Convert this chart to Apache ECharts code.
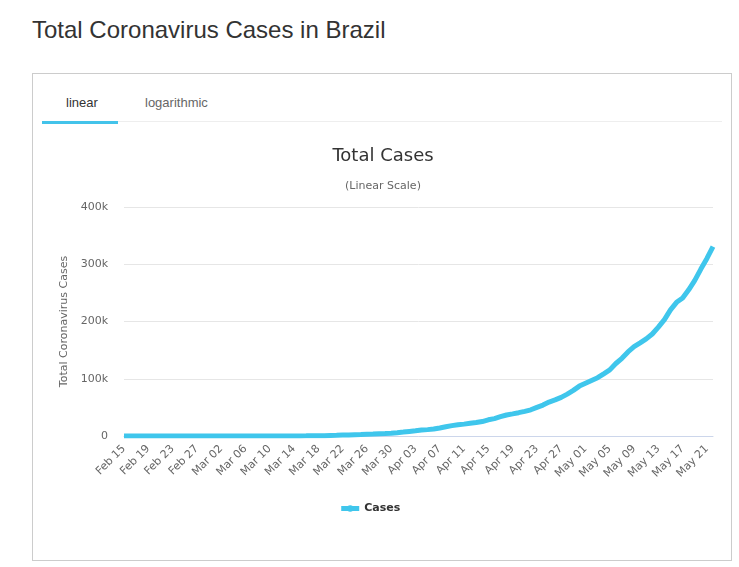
<!DOCTYPE html>
<html>
<head>
<meta charset="utf-8">
<title>Total Coronavirus Cases in Brazil</title>
<script src="https://cdn.jsdelivr.net/npm/echarts@6/dist/echarts.min.js"></script>
<style>
  body { margin: 0; background: #fff; font-family: "Liberation Sans", Arial, sans-serif; }
  #page { position: relative; width: 739px; height: 567px; overflow: hidden; }
  h1 { position: absolute; left: 32px; top: 16px; margin: 0; font-weight: normal; font-size: 24px; color: #333; }
  .box { position: absolute; left: 32px; top: 73px; width: 700px; height: 488px; border: 1px solid #ccc; box-sizing: border-box; }
  .tabline { position: absolute; left: 42px; top: 121px; width: 680px; height: 1px; background: #eee; }
  .tab { position: absolute; top: 95px; font-size: 13px; }
  .tab.on { left: 66px; color: #333; }
  .tab.off { left: 145px; color: #666; }
  .underline { position: absolute; left: 42px; top: 121px; width: 76px; height: 3px; background: #43c3ea; }
  #chart { position: absolute; left: 0; top: 0; width: 739px; height: 567px; }
</style>
</head>
<body>
<div id="page">
  <h1>Total Coronavirus Cases in Brazil</h1>
  <div class="box"></div>
  <div class="tabline"></div>
  <div class="tab on">linear</div>
  <div class="tab off">logarithmic</div>
  <div class="underline"></div>
  <div id="chart"></div>
</div>
<script>
// Feb 15 .. May 22 (2020)
const dates = [
  'Feb 15','Feb 16','Feb 17','Feb 18','Feb 19','Feb 20','Feb 21','Feb 22','Feb 23','Feb 24','Feb 25','Feb 26','Feb 27','Feb 28','Feb 29',
  'Mar 01','Mar 02','Mar 03','Mar 04','Mar 05','Mar 06','Mar 07','Mar 08','Mar 09','Mar 10','Mar 11','Mar 12','Mar 13','Mar 14','Mar 15',
  'Mar 16','Mar 17','Mar 18','Mar 19','Mar 20','Mar 21','Mar 22','Mar 23','Mar 24','Mar 25','Mar 26','Mar 27','Mar 28','Mar 29','Mar 30','Mar 31',
  'Apr 01','Apr 02','Apr 03','Apr 04','Apr 05','Apr 06','Apr 07','Apr 08','Apr 09','Apr 10','Apr 11','Apr 12','Apr 13','Apr 14','Apr 15',
  'Apr 16','Apr 17','Apr 18','Apr 19','Apr 20','Apr 21','Apr 22','Apr 23','Apr 24','Apr 25','Apr 26','Apr 27','Apr 28','Apr 29','Apr 30',
  'May 01','May 02','May 03','May 04','May 05','May 06','May 07','May 08','May 09','May 10','May 11','May 12','May 13','May 14','May 15',
  'May 16','May 17','May 18','May 19','May 20','May 21','May 22'
]

const cases = [
  0, 0, 0, 0, 0, 0, 0, 0, 0, 0, 0, 1, 1, 1, 2,
  2, 2, 2, 3, 8, 13, 19, 25, 25, 34, 52, 77, 98, 121, 200,
  234, 346, 529, 640, 970, 1178, 1546, 1924, 2247, 2554, 2985, 3417, 3904, 4256, 4630, 5717,
  6836, 8044, 9056, 10360, 11130, 12161, 14034, 16170, 18092, 19638, 20727, 22192, 23430, 25262, 28320,
  30425, 33682, 36658, 38654, 40743, 43079, 45757, 50036, 54043, 59324, 63100, 67446, 73235, 79685, 87187,
  92202, 97100, 101826, 108620, 115455, 126611, 135773, 146894, 156061, 162699, 169594, 178214, 190137, 203165, 220291,
  233511, 241080, 255368, 271885, 291579, 310087, 330890
]

const yTicks = [0, 100000, 200000, 300000, 400000]

const chart = echarts.init(document.getElementById('chart'))

chart.setOption({
  animation: false,
  textStyle: { fontFamily: 'DejaVu Sans' },
  title: {
    text: 'Total Cases',
    subtext: '(Linear Scale)',
    left: 378,
    top: 142,
    itemGap: 16,
    textAlign: 'center',
    textStyle: { fontSize: 18, fontWeight: 'normal', color: '#333' },
    subtextStyle: { fontSize: 11, color: '#666' }
  },
  legend: {
    bottom: 48,
    left: 'center',
    itemWidth: 18,
    itemHeight: 8,
    lineStyle: { width: 5 },
    textStyle: { fontSize: 11, fontWeight: 'bold', color: '#333' },
    data: ['Cases']
  },
  grid: { left: 124, right: 26, top: 207, bottom: 131 },
  xAxis: {
    type: 'category',
    data: dates,
    boundaryGap: false,
    axisLine: { lineStyle: { color: '#ccd6eb' } },
    axisTick: { show: false },
    axisLabel: { interval: 3, rotate: 45, fontSize: 11, color: '#666', margin: 11 }
  },
  yAxis: {
    type: 'value',
    min: yTicks[0],
    max: yTicks[yTicks.length - 1],
    interval: 100000,
    name: 'Total Coronavirus Cases',
    nameLocation: 'middle',
    nameGap: 53,
    nameTextStyle: { fontSize: 11, color: '#666' },
    axisLabel: {
      fontSize: 11, color: '#666', margin: 16,
      formatter: v => v === 0 ? '0' : v / 1000 + 'k'
    },
    splitLine: { lineStyle: { color: '#e6e6e6' } }
  },
  series: [{
    name: 'Cases',
    type: 'line',
    data: cases,
    showSymbol: false,
    symbol: 'circle',
    symbolSize: 8,
    lineStyle: { width: 5, color: '#3fc6ec' },
    itemStyle: { color: '#3fc6ec' }
  }]
})
</script>
</body>
</html>
